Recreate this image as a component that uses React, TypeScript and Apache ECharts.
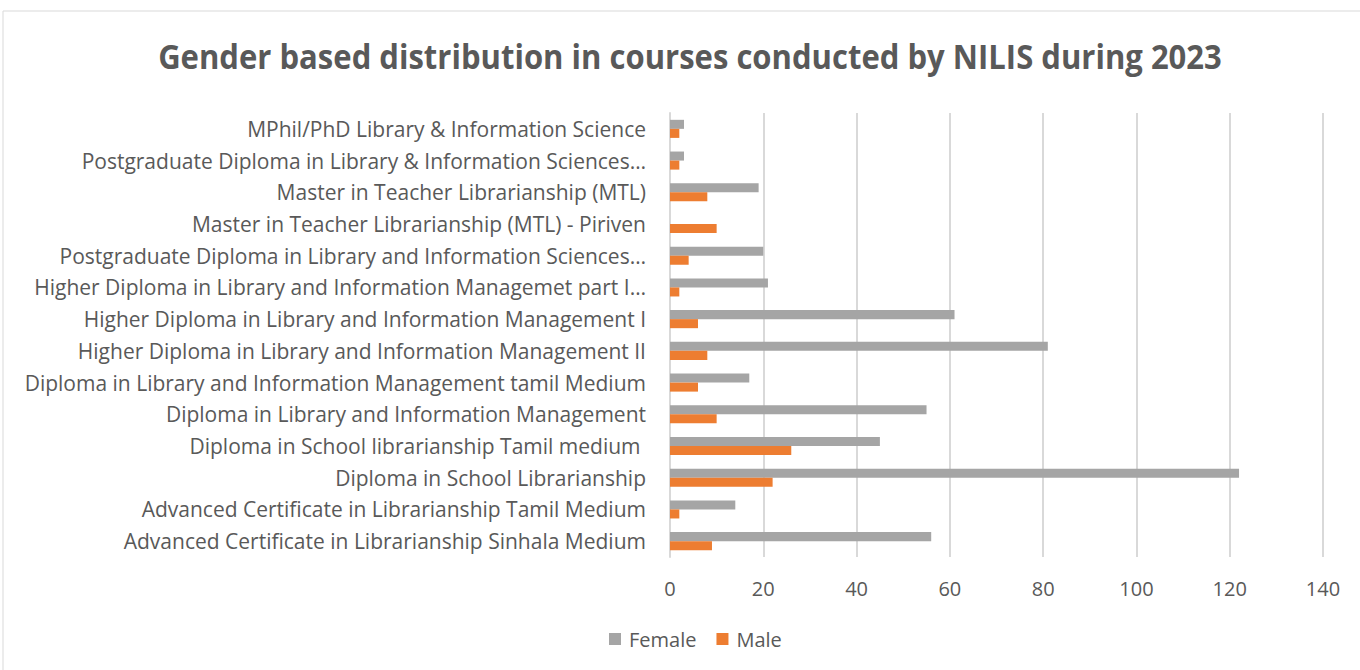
import React, { useEffect, useRef } from "react";
import * as echarts from "echarts";

const categories = [
  "Advanced Certificate in Librarianship Sinhala Medium",
  "Advanced Certificate in Librarianship Tamil Medium",
  "Diploma in School Librarianship",
  "Diploma in School librarianship Tamil medium ",
  "Diploma in Library and Information Management",
  "Diploma in Library and Information Management tamil Medium",
  "Higher Diploma in Library and Information Management II",
  "Higher Diploma in Library and Information Management I",
  "Higher Diploma in Library and Information Managemet part I…",
  "Postgraduate Diploma in Library and Information Sciences…",
  "Master in Teacher Librarianship (MTL) - Piriven",
  "Master in Teacher Librarianship (MTL)",
  "Postgraduate Diploma in Library & Information Sciences…",
  "MPhil/PhD Library & Information Science",
];
const female = [56, 14, 122, 45, 55, 17, 81, 61, 21, 20, 0, 19, 3, 3];
const male = [9, 2, 22, 26, 10, 6, 8, 6, 2, 4, 10, 8, 2, 2];
const xTicks = [0, 20, 40, 60, 80, 100, 120, 140];
const titleText = "Gender based distribution in courses conducted by NILIS during 2023";

const TEXT = "#595959";
const FONT = "'Open Sans', 'Noto Sans', sans-serif";

export default function App() {
  const ref = useRef<HTMLDivElement>(null);
  useEffect(() => {
    if (!ref.current) return;
    const chart = echarts.init(ref.current, null, { renderer: "svg" });
    const titleSize = 34;
    let scaleX = 0.89;
    try {
      const c = document.createElement("canvas").getContext("2d");
      if (c) {
        c.font = `bold ${titleSize}px 'Open Sans'`;
        const w = c.measureText(titleText).width;
        if (w > 0) scaleX = 1064 / w;
      }
    } catch (e) {}
    chart.setOption({
      animation: false,
      backgroundColor: "#ffffff",
      textStyle: { fontFamily: FONT, color: TEXT },
      graphic: [
        {
          type: "rect",
          shape: { x: 3, y: 11, width: 1362, height: 670 },
          style: { fill: "none", stroke: "#d9d9d9", lineWidth: 1 },
          silent: true,
        },
        {
          type: "text",
          x: 690,
          y: 56,
          scaleX: scaleX,
          scaleY: 1,
          style: {
            text: titleText,
            fontFamily: FONT,
            fontSize: titleSize,
            fontWeight: "bold",
            fill: TEXT,
            textAlign: "center",
            textVerticalAlign: "middle",
          },
          silent: true,
        },
      ],
      legend: {
        data: ["Female", "Male"],
        bottom: 16,
        left: 604,
        itemWidth: 12,
        itemHeight: 12,
        itemGap: 20,
        icon: "rect",
        textStyle: { fontFamily: FONT, fontSize: 20, color: TEXT, padding: [0, 0, 0, 3] },
      },
      grid: { left: 670, right: 37, top: 113, bottom: 113, containLabel: false },
      xAxis: {
        type: "value",
        min: xTicks[0],
        max: xTicks[xTicks.length - 1],
        interval: 20,
        axisLine: { show: false },
        axisTick: { show: false },
        splitLine: { show: true, lineStyle: { color: "#d9d9d9", width: 2 } },
        axisLabel: { fontFamily: FONT, fontSize: 20, color: TEXT, margin: 21 },
      },
      yAxis: {
        type: "category",
        data: categories,
        axisLine: { show: true, lineStyle: { color: "#d9d9d9", width: 2 } },
        axisTick: { show: false },
        axisLabel: { fontFamily: FONT, fontSize: 21, color: TEXT, margin: 24 },
      },
      series: [
        {
          name: "Female",
          type: "bar",
          data: female,
          itemStyle: { color: "#a5a5a5" },
          barGap: "0%",
          barCategoryGap: "43%",
        },
        {
          name: "Male",
          type: "bar",
          data: male,
          itemStyle: { color: "#ed7d31" },
          barGap: "0%",
          barCategoryGap: "43%",
        },
      ],
    });
    return () => chart.dispose();
  }, []);
  return (
    <div
      ref={ref}
      style={{ position: "fixed", left: 0, top: 0, width: 1360, height: 670 }}
    />
  );
}
